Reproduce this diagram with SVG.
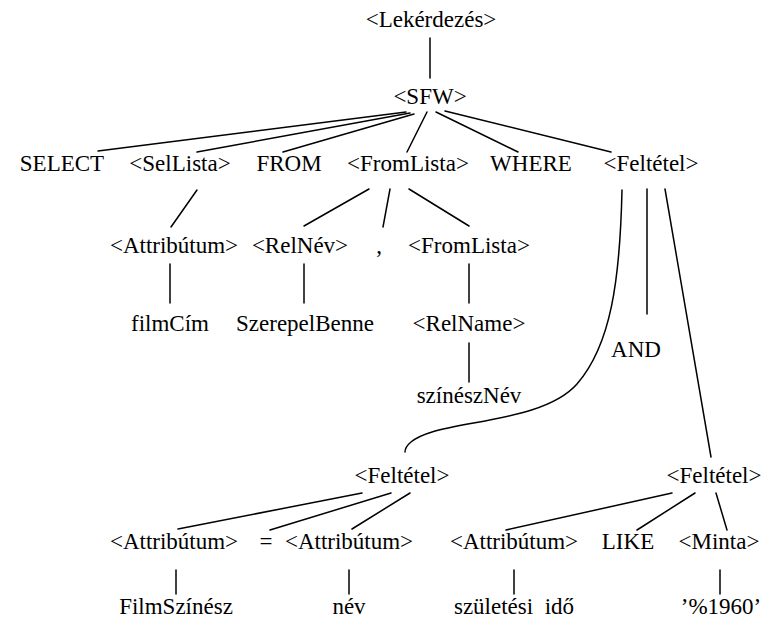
<svg xmlns="http://www.w3.org/2000/svg" width="777" height="638" viewBox="0 0 777 638">
  <style>
    .lbl { font-family: 'Liberation Serif', serif; font-size: 23px; fill: #000; text-anchor: middle; white-space: pre; }
    .edge { stroke: #000; stroke-width: 1.5; fill: none; stroke-linecap: round; }
  </style>
  <rect width="777" height="638" fill="#fff"/>

  <!-- connectors -->
  <g id="connectors">
    <line class="edge" x1="430" y1="38" x2="430" y2="78"/>
    <!-- SFW children -->
    <line class="edge" x1="406" y1="112" x2="98" y2="151"/>
    <line class="edge" x1="410" y1="113" x2="197" y2="152"/>
    <line class="edge" x1="414" y1="114" x2="283" y2="152"/>
    <line class="edge" x1="427" y1="112" x2="407" y2="152"/>
    <line class="edge" x1="436" y1="112" x2="518" y2="152"/>
    <line class="edge" x1="445" y1="111" x2="611" y2="152"/>
    <!-- SelLista / FromLista children -->
    <line class="edge" x1="197" y1="190" x2="171" y2="227"/>
    <line class="edge" x1="369" y1="189" x2="304" y2="226"/>
    <line class="edge" x1="390" y1="189" x2="383" y2="227"/>
    <line class="edge" x1="409" y1="189" x2="469" y2="226"/>
    <line class="edge" x1="170" y1="264" x2="170" y2="303"/>
    <line class="edge" x1="304" y1="264" x2="304" y2="303"/>
    <line class="edge" x1="469" y1="264" x2="469" y2="303"/>
    <line class="edge" x1="469" y1="343" x2="469" y2="382"/>
    <!-- Feltétel children -->
    <path class="edge" d="M622,190 C620,280 611,345 577,384 C547,418 472,420 432,432 C412,438 405,446 405,452"/>
    <line class="edge" x1="647" y1="189" x2="647" y2="314"/>
    <line class="edge" x1="665" y1="189" x2="711" y2="457"/>
    <!-- lower Feltétel children -->
    <line class="edge" x1="362" y1="493" x2="178" y2="529"/>
    <line class="edge" x1="391" y1="493" x2="270" y2="530"/>
    <line class="edge" x1="410" y1="493" x2="352" y2="529"/>
    <line class="edge" x1="672" y1="493" x2="506" y2="530"/>
    <line class="edge" x1="695" y1="493" x2="637" y2="530"/>
    <line class="edge" x1="716" y1="493" x2="727" y2="530"/>
    <line class="edge" x1="176" y1="570" x2="176" y2="594"/>
    <line class="edge" x1="349" y1="570" x2="349" y2="594"/>
    <line class="edge" x1="514" y1="570" x2="514" y2="594"/>
    <line class="edge" x1="720" y1="570" x2="720" y2="594"/>
  </g>

  <g id="n-lekerdezes"><text class="lbl" x="431" y="27">&lt;Lekérdezés&gt;</text></g>
  <g id="n-sfw"><text class="lbl" x="430" y="104">&lt;SFW&gt;</text></g>

  <g id="n-select"><text class="lbl" x="62" y="171">SELECT</text></g>
  <g id="n-sellista"><text class="lbl" x="180" y="171">&lt;SelLista&gt;</text></g>
  <g id="n-from"><text class="lbl" x="289" y="171">FROM</text></g>
  <g id="n-fromlista"><text class="lbl" x="408" y="171">&lt;FromLista&gt;</text></g>
  <g id="n-where"><text class="lbl" x="531" y="171">WHERE</text></g>
  <g id="n-feltetel"><text class="lbl" x="651" y="171">&lt;Feltétel&gt;</text></g>

  <g id="n-attributum1"><text class="lbl" x="174" y="253">&lt;Attribútum&gt;</text></g>
  <g id="n-relnev"><text class="lbl" x="300" y="253">&lt;RelNév&gt;</text></g>
  <g id="n-comma"><text class="lbl" x="379" y="253">,</text></g>
  <g id="n-fromlista2"><text class="lbl" x="469" y="253">&lt;FromLista&gt;</text></g>

  <g id="n-filmcim"><text class="lbl" x="170" y="331">filmCím</text></g>
  <g id="n-szerepelbenne"><text class="lbl" x="305" y="331">SzerepelBenne</text></g>
  <g id="n-relname"><text class="lbl" x="469" y="331">&lt;RelName&gt;</text></g>
  <g id="n-and"><text class="lbl" x="636" y="357">AND</text></g>
  <g id="n-szinesznev"><text class="lbl" x="469" y="403">színészNév</text></g>

  <g id="n-feltetel-l"><text class="lbl" x="402" y="483">&lt;Feltétel&gt;</text></g>
  <g id="n-feltetel-r"><text class="lbl" x="714" y="483">&lt;Feltétel&gt;</text></g>

  <g id="n-attributum2"><text class="lbl" x="174" y="549">&lt;Attribútum&gt;</text></g>
  <g id="n-eq"><text class="lbl" x="266" y="549">=</text></g>
  <g id="n-attributum3"><text class="lbl" x="349" y="549">&lt;Attribútum&gt;</text></g>
  <g id="n-attributum4"><text class="lbl" x="514" y="549">&lt;Attribútum&gt;</text></g>
  <g id="n-like"><text class="lbl" x="628" y="549">LIKE</text></g>
  <g id="n-minta"><text class="lbl" x="719" y="549">&lt;Minta&gt;</text></g>

  <g id="n-filmszinesz"><text class="lbl" x="176" y="614">FilmSzínész</text></g>
  <g id="n-nev"><text class="lbl" x="349" y="614">név</text></g>
  <g id="n-szuletesi"><text class="lbl" x="514" y="614">születési  idő</text></g>
  <g id="n-minta-val"><text class="lbl" x="721" y="614">’%1960’</text></g>
</svg>
